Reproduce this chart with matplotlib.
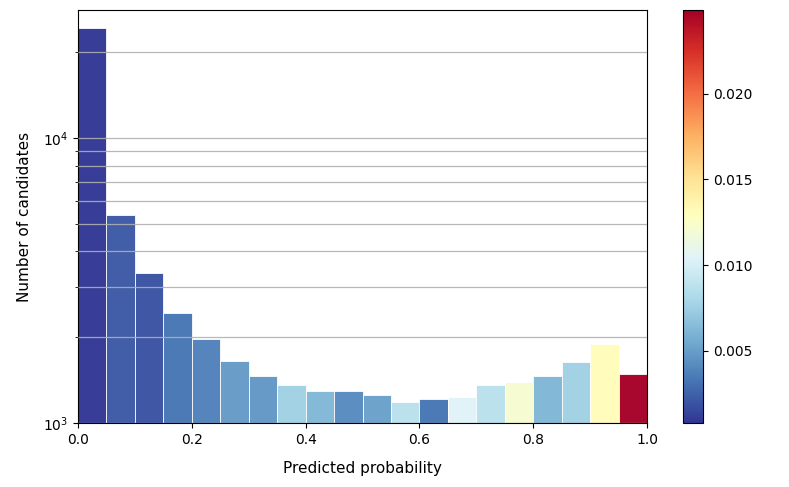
import numpy as np
import matplotlib
matplotlib.use("Agg")
import matplotlib.pyplot as plt
from matplotlib import cm, colors

bin_edges = [0.0, 0.05, 0.1, 0.15, 0.2, 0.25, 0.3, 0.35, 0.4, 0.45, 0.5,
             0.55, 0.6, 0.65, 0.7, 0.75, 0.8, 0.85, 0.9, 0.95, 1.0]
counts = [24300, 5370, 3350, 2425, 1976, 1650, 1462, 1360, 1292, 1300,
          1251, 1188, 1214, 1234, 1360, 1389, 1462, 1633, 1893, 1482]
color_values = [0.00077, 0.0021, 0.0019, 0.0033, 0.0037, 0.0049, 0.0047,
                0.0076, 0.0062, 0.0041, 0.0051, 0.0086, 0.0033, 0.0104,
                0.0086, 0.0121, 0.0061, 0.0076, 0.0131, 0.0249]
cbar_ticks = [0.005, 0.010, 0.015, 0.020]

fig = plt.figure(figsize=(7.89, 4.87), dpi=100)
ax = fig.add_axes([78/789, 1 - 423/487, (647-78)/789, (423-10)/487])
cax = fig.add_axes([683/789, 1 - 423/487, 20/789, (423-10)/487])

cmap = plt.get_cmap("RdYlBu_r")
norm = colors.Normalize(vmin=min(color_values), vmax=max(color_values))

lefts = np.array(bin_edges[:-1])
widths = np.diff(bin_edges)
ax.bar(lefts, counts, width=widths, align="edge",
       color=[cmap(norm(v)) for v in color_values], alpha=0.97,
       edgecolor=(1, 1, 1, 0.2), linewidth=0.6, zorder=1)

ax.set_yscale("log")
ax.set_ylim(1000, 28100)
ax.set_xlim(0, 1)
ax.grid(True, which="both", axis="y", color="#b0b0b0", linewidth=0.9,
        alpha=0.9, zorder=2)
ax.set_axisbelow(False)
ax.set_xticks([0.0, 0.2, 0.4, 0.6, 0.8, 1.0])
ax.set_xlabel("Predicted probability", fontsize=11, labelpad=10)
ax.set_ylabel("Number of candidates", fontsize=11, labelpad=8)
ax.tick_params(labelsize=10)

sm = cm.ScalarMappable(norm=norm, cmap=cmap)
sm.set_array([])
cb = fig.colorbar(sm, cax=cax)
cb.set_ticks(cbar_ticks)
cb.ax.tick_params(labelsize=10)

fig.savefig("out.png", dpi=100)
